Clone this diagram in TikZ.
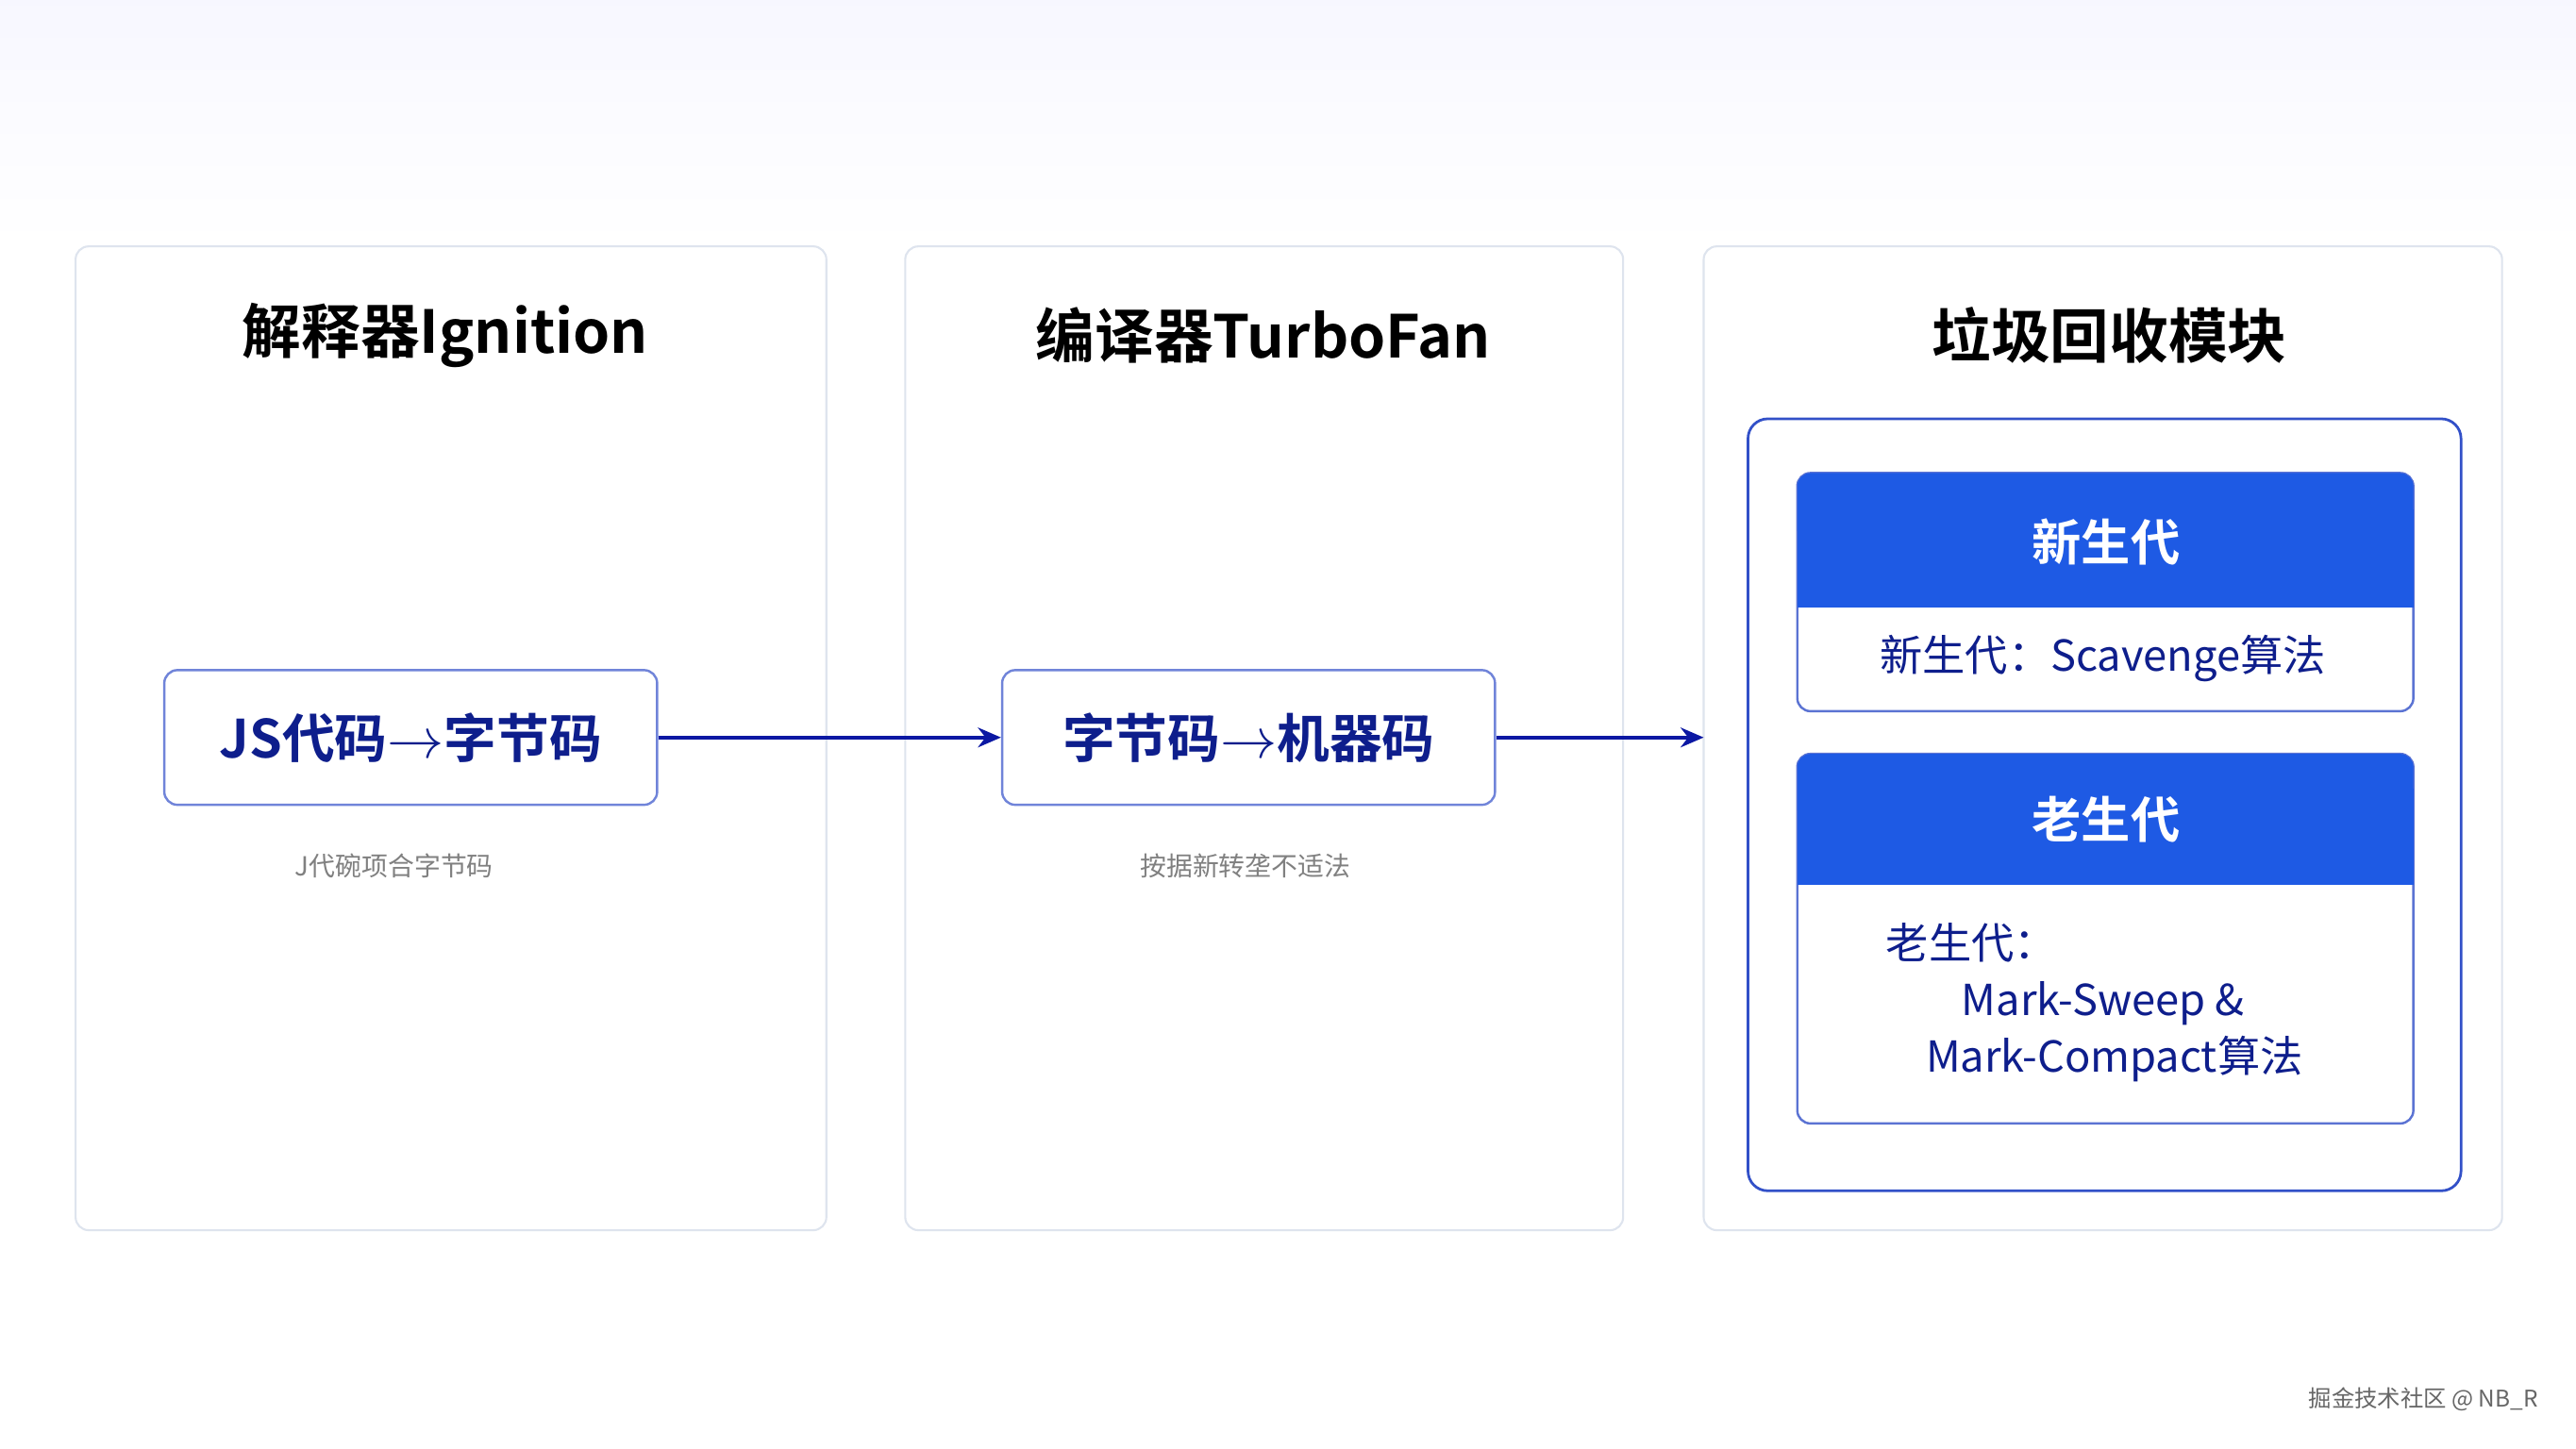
\documentclass[tikz,border=0pt]{standalone}
\usepackage{fontspec}
\newfontfamily\cjk{Noto Sans CJK SC}
\newfontfamily\cjkb{Noto Sans CJK SC Bold}
\usetikzlibrary{arrows.meta,positioning}
\definecolor{navy}{RGB}{14,30,140}
\definecolor{hdblue}{RGB}{30,90,228}
\definecolor{frameblue}{RGB}{50,80,200}
\definecolor{panelline}{RGB}{222,228,238}
\begin{document}
\begin{tikzpicture}[x=0.5pt,y=-0.5pt,
  panel/.style={draw=panelline,line width=0.6pt,fill=white,rounded corners=4pt},
  title/.style={font=\cjkb\fontsize{18}{20}\selectfont,text=black},
  stepbox/.style={draw=frameblue!70,line width=0.7pt,fill=white,rounded corners=4pt,minimum width=150pt,minimum height=41pt,font=\cjkb\fontsize{16}{18}\selectfont,text=navy},
  note/.style={font=\cjk\fontsize{8}{10}\selectfont,text=gray},
  flow/.style={-{Stealth[length=7pt,width=6pt]},line width=1.1pt,draw=navy!80!blue},
  head/.style={fill=hdblue,text=white,font=\cjkb\fontsize{15}{17}\selectfont},
  body/.style={font=\cjk\fontsize{13}{15}\selectfont,text=navy}]
\useasboundingbox[fill=white] (0,0) rectangle (1568,882);
\shade[top color=blue!3,bottom color=white] (0,0) rectangle (1568,150);

% panels
\draw[panel] (46,150) rectangle (503,749);
\draw[panel] (551,150) rectangle (988,749);
\draw[panel] (1037,150) rectangle (1523,749);

\node[title] (t1) at (271,204) {解释器Ignition};
\node[title] (t2) at (769,204) {编译器TurboFan};
\node[title] (t3) at (1284,204) {垃圾回收模块};

% steps
\node[stepbox] (s1) at (250,449) {JS代码$\rightarrow$字节码};
\node[stepbox] (s2) at (760,449) {字节码$\rightarrow$机器码};
\coordinate (gc) at (1037,449);
\draw[flow] (s1) -- (s2);
\draw[flow] (s2) -- (gc);

\node[note] (n1) at (240,527) {J代碗项合字节码};
\node[note] (n2) at (758,527) {按据新转垄不适法};

% gc frame
\draw[draw=frameblue,line width=0.8pt,rounded corners=6pt] (1064,255) rectangle (1498,725);

% young
\draw[draw=frameblue!80,line width=0.7pt,fill=white,rounded corners=4pt] (1094,288) rectangle (1469,433);
\fill[hdblue,rounded corners=4pt] (1094,288) rectangle (1469,330);
\fill[hdblue] (1094,310) rectangle (1469,370);
\node[head,fill=none] (y1) at (1282,330) {新生代};
\node[body] (y2) at (1280,401) {新生代：Scavenge算法};

% old
\draw[draw=frameblue!80,line width=0.7pt,fill=white,rounded corners=4pt] (1094,459) rectangle (1469,684);
\fill[hdblue,rounded corners=4pt] (1094,459) rectangle (1469,500);
\fill[hdblue] (1094,480) rectangle (1469,539);
\node[head,fill=none] (o1) at (1282,499) {老生代};
\node[body,anchor=west] (o2) at (1141,574) {老生代：};
\node[body] (o3) at (1280,611) {Mark-Sweep \&};
\node[body] (o4) at (1287,645) {Mark-Compact算法};

\node[font=\cjk\fontsize{7}{9}\selectfont,text=gray!80!black] (wm) at (1475,852) {掘金技术社区 @ NB\_R};
\end{tikzpicture}
\end{document}
